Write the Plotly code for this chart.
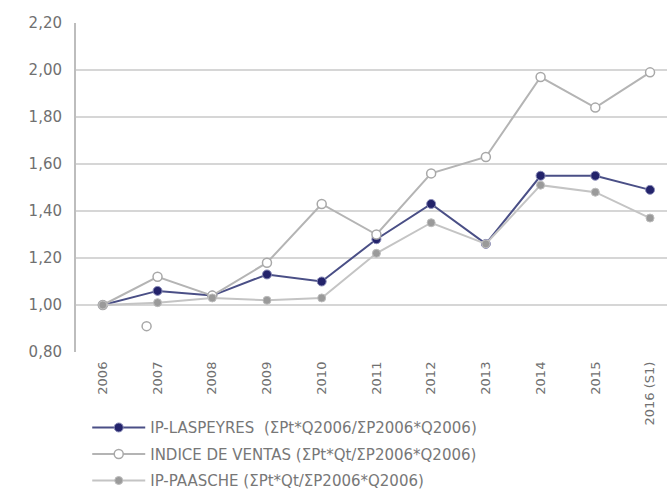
import plotly.graph_objects as go

years = ["2006", "2007", "2008", "2009", "2010", "2011", "2012", "2013", "2014", "2015", "2016 (S1)"]
laspeyres = [1.00, 1.06, 1.04, 1.13, 1.10, 1.28, 1.43, 1.26, 1.55, 1.55, 1.49]
ventas = [1.00, 1.12, 1.04, 1.18, 1.43, 1.30, 1.56, 1.63, 1.97, 1.84, 1.99]
paasche = [1.00, 1.01, 1.03, 1.02, 1.03, 1.22, 1.35, 1.26, 1.51, 1.48, 1.37]
stray_x = [0.8]
stray_y = [0.91]
yticks = [0.8, 1.0, 1.2, 1.4, 1.6, 1.8, 2.0, 2.2]
ytick_text = ["0,80", "1,00", "1,20", "1,40", "1,60", "1,80", "2,00", "2,20"]

xs = list(range(len(years)))

fig = go.Figure()
fig.add_trace(go.Scatter(
    x=xs, y=laspeyres, mode="lines+markers", legendgroup="a",
    name="IP-LASPEYRES  (ΣPt*Q2006/ΣP2006*Q2006)",
    line=dict(color="#4a4f86", width=2),
    marker=dict(color="#23236b", size=9, line=dict(color="#8a8cb8", width=1)),
))
fig.add_trace(go.Scatter(
    x=xs, y=ventas, mode="lines+markers", legendgroup="b",
    name="INDICE DE VENTAS (ΣPt*Qt/ΣP2006*Q2006)",
    line=dict(color="#b4b4b4", width=2),
    marker=dict(color="#ffffff", size=9, line=dict(color="#a8a8a8", width=1.5)),
))
fig.add_trace(go.Scatter(
    x=xs, y=paasche, mode="lines+markers", legendgroup="c",
    name="IP-PAASCHE (ΣPt*Qt/ΣP2006*Q2006)",
    line=dict(color="#c4c4c4", width=2),
    marker=dict(color="#9a9a9a", size=8, line=dict(color="#bdbdbd", width=1)),
))
fig.add_trace(go.Scatter(
    x=stray_x, y=stray_y, mode="markers", showlegend=False,
    marker=dict(color="#ffffff", size=9, line=dict(color="#a8a8a8", width=1.5)),
))

fig.update_layout(
    width=667, height=489,
    margin=dict(l=76, r=0, t=23, b=137, autoexpand=False),
    paper_bgcolor="white", plot_bgcolor="white",
    font=dict(family="DejaVu Sans", color="#7a7a7a", size=11),
    xaxis=dict(
        range=[-0.49, 10.31], tickmode="array", tickvals=xs, ticktext=years,
        tickangle=-90, showgrid=False, zeroline=False, showline=False,
        tickfont=dict(size=13, color="#707070"), ticks="", ticklabelstandoff=6,
        automargin=False,
    ),
    yaxis=dict(
        range=[0.8, 2.2], tickmode="array", tickvals=yticks, ticktext=ytick_text,
        showgrid=True, gridcolor="#d6d6d6", gridwidth=2, zeroline=False,
        showline=True, linecolor="#bdbdbd", linewidth=2,
        tickfont=dict(size=15, color="#707070"), ticks="", ticklabelstandoff=9,
        automargin=False,
    ),
    legend=dict(
        orientation="v", x=0.019, y=-0.18, xanchor="left", yanchor="top",
        font=dict(size=15, color="#777777"), tracegroupgap=4,
        itemsizing="trace", itemwidth=53, bgcolor="rgba(0,0,0,0)",
    ),
)

fig.write_html("out.html")
